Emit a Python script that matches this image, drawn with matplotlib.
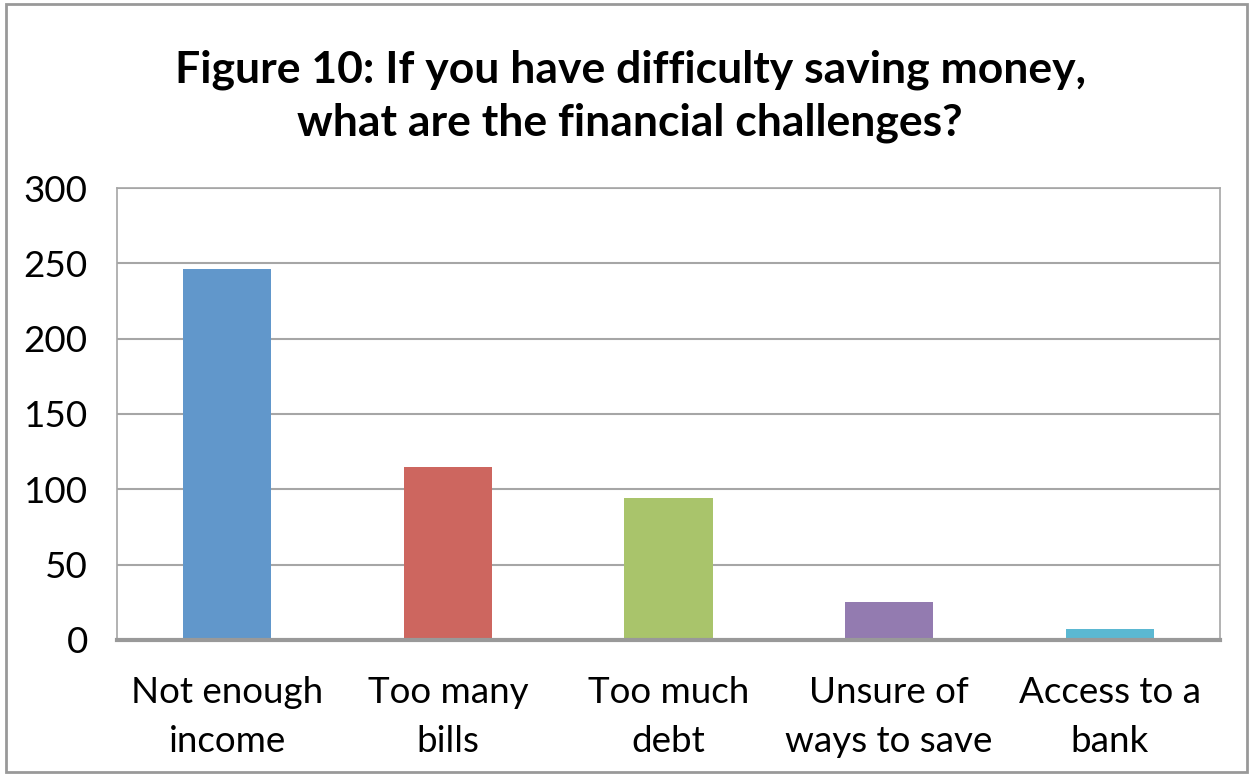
import matplotlib.pyplot as plt
from matplotlib.patches import Rectangle

# survey responses
categories = ["Not enough\nincome", "Too many\nbills", "Too much\ndebt", "Unsure of\nways to save", "Access to a\nbank"]
counts = [246, 115, 94, 25, 7]
colors = ["#6197CB", "#CD665F", "#A9C46B", "#937BB0", "#5BB8D2"]

plt.rcParams['font.family'] = ['Lato', 'DejaVu Sans']

fig = plt.figure(figsize=(12.53, 7.76), dpi=100)
ax = fig.add_axes([0.0934, 0.1753, 0.8803, 0.5824])

x = range(len(categories))
ax.bar(x, counts, width=0.40, color=colors, zorder=3)

ax.set_ylim(0, 300)
ax.set_xlim(-0.5, len(categories) - 0.5)
ax.set_yticks(range(0, 301, 50))
ax.yaxis.grid(True, color="#A6A6A6", linewidth=1.5, zorder=0)
ax.set_xticks(list(x))
ax.set_xticklabels(categories, fontsize=26.5, linespacing=1.58)
ax.tick_params(axis='y', labelsize=26.5, length=0, pad=21)
ax.tick_params(axis='x', length=0, pad=26)

for side in ['top', 'right', 'left']:
    ax.spines[side].set_color("#A6A6A6")
    ax.spines[side].set_linewidth(1.2)
ax.spines['bottom'].set_color("#999999")
ax.spines['bottom'].set_linewidth(3)
ax.spines['bottom'].set_zorder(4)

fig.text(0.503, 0.876, "Figure 10: If you have difficulty saving money,\nwhat are the financial challenges?",
         ha='center', va='center', fontsize=32, fontweight='bold', linespacing=1.38)

# chart border
fig.patches.append(Rectangle((0.005, 0.005), 0.99, 0.99, transform=fig.transFigure,
                             fill=False, edgecolor="#999999", linewidth=2))

fig.savefig("out.png", dpi=100)
